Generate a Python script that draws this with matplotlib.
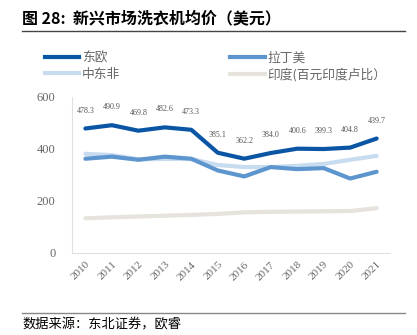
import matplotlib.pyplot as plt
from matplotlib.lines import Line2D

plt.rcParams['font.family'] = ['Liberation Serif', 'Noto Sans CJK SC', 'DejaVu Sans']

years = ['2010', '2011', '2012', '2013', '2014', '2015',
         '2016', '2017', '2018', '2019', '2020', '2021']
east_europe = [478.3, 490.9, 469.8, 482.6, 473.3, 385.1, 362.2, 384.0, 400.6, 399.3, 404.8, 439.7]
latin_america = [362, 370, 358, 370, 362, 317, 294, 330, 322, 326, 286, 312]
mea = [381, 376, 360, 361, 361, 338, 330, 330, 335, 342, 358, 373]
india = [133, 137, 140, 143, 146, 150, 156, 158, 159, 160, 161, 172]

names = ['东欧', '拉丁美', '中东非', '印度(百元印度卢比）']
colors = ['#0a56a5', '#5d95cf', '#c8dcf0', '#e6e3dd']

fig = plt.figure(figsize=(4.17, 3.35), dpi=100)
ax = fig.add_axes([0.173, 0.245, 0.762, 0.466])

x = range(len(years))
for vals, c in zip([india, mea, latin_america, east_europe], colors[::-1]):
    ax.plot(x, vals, color=c, lw=3, solid_capstyle='round')

for i, v in enumerate(east_europe):
    ax.annotate(f'{v:.1f}', (i, v), xytext=(0, 10), textcoords='offset points',
                ha='center', va='bottom', fontsize=5.8, color='#555555')

ax.set_xlim(-0.5, 11.5)
ax.set_ylim(0, 600)
ax.set_yticks([0, 200, 400, 600])
ax.set_xticks(list(x))
ax.set_xticklabels(years, rotation=45, ha='right', rotation_mode='anchor')
ax.tick_params(length=0, colors='#666666', labelsize=8)
ax.tick_params(axis='x', pad=5)
ax.tick_params(axis='y', labelsize=9, pad=12)
for s in ['top', 'right']:
    ax.spines[s].set_visible(False)
for s in ['left', 'bottom']:
    ax.spines[s].set_color('#e0e0e0')

handles = [Line2D([], [], color=c, lw=3) for c in colors]
fig.legend([handles[0], handles[2], handles[1], handles[3]],
           [names[0], names[2], names[1], names[3]],
           ncol=2, loc='upper left', bbox_to_anchor=(0.08, 0.88), frameon=False,
           handlelength=2.7, handletextpad=0.2, columnspacing=8.6,
           labelspacing=0.25, labelcolor='#666666',
           prop={'family': ['Noto Sans CJK SC', 'DejaVu Sans'], 'size': 9.2})

fig.text(0.053, 0.945, '图 28:  新兴市场洗衣机均价（美元）', fontsize=11.5, fontweight='bold',
         family=['Noto Sans CJK SC', 'DejaVu Sans'], va='center')
fig.add_artist(Line2D([0.053, 0.972], [0.907, 0.907], color='#444444', lw=1))
fig.add_artist(Line2D([0.053, 0.972], [0.066, 0.066], color='#888888', lw=1))
fig.text(0.053, 0.03, '数据来源：东北证券，欧睿', fontsize=9.5,
         family=['Noto Sans CJK SC', 'DejaVu Sans'], va='center')

fig.savefig('out.png', dpi=100)
